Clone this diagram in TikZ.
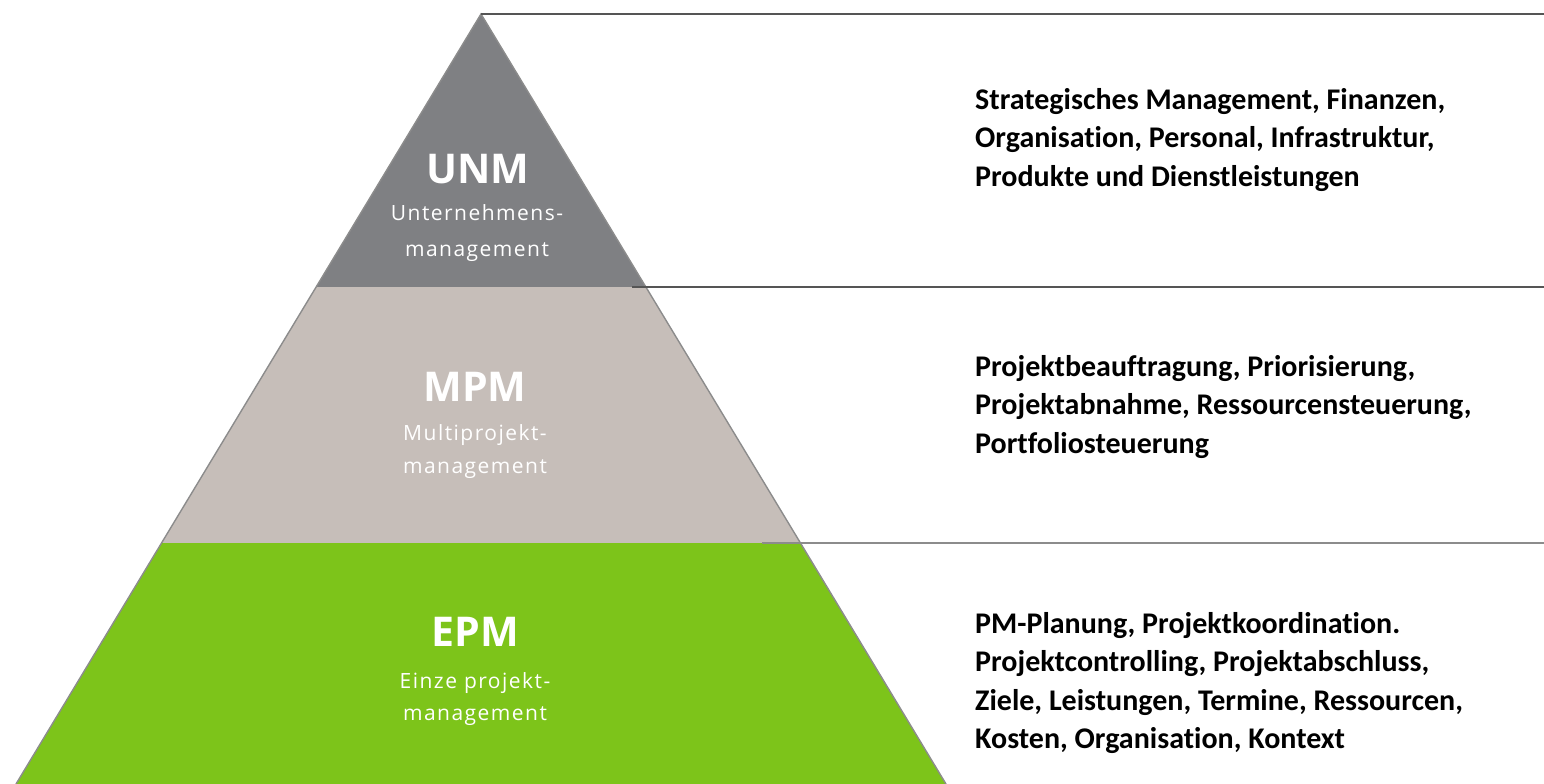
\documentclass[tikz,border=0pt]{standalone}
\usepackage{fontspec}
\setmainfont{Carlito}[RawFeature=-liga]
\newfontfamily\tierfont{Open Sans}
\newfontfamily\tiersubfont{Open Sans}[LetterSpace=7]
\definecolor{tiergray}{HTML}{7F8083}
\definecolor{tierbeige}{HTML}{C6BEB9}
\definecolor{tiergreen}{HTML}{7DC41A}
\definecolor{rulegray}{HTML}{555555}
\definecolor{edgegray}{HTML}{8C8C8C}
\tikzset{
  tieredge/.style={draw=edgegray, line width=1.4pt, line join=miter},
  rule/.style={draw=rulegray, line width=2pt},
  tiertitle/.style={text=white, inner sep=0pt, anchor=base, font=\tierfont\bfseries\fontsize{41}{48}\selectfont},
  tiersub/.style={text=white, inner sep=0pt, anchor=base, font=\tiersubfont\fontsize{21}{32}\selectfont},
  topics/.style={text=black, inner sep=0pt, anchor=north west, align=left, font=\bfseries\fontsize{30}{38.5}\selectfont}
}
\begin{document}
\begin{tikzpicture}[x=1pt,y=-1pt]
\useasboundingbox (0,0) rectangle (1544,784);
% pyramid corners
\coordinate (apex) at (481,14);
\coordinate (l1) at (316.1,287);
\coordinate (r1) at (645.9,287);
\coordinate (l2) at (161.5,543);
\coordinate (r2) at (800.5,543);
\coordinate (l3) at (16,784);
\coordinate (r3) at (946,784);
% tiers
\fill[tiergray] (apex) -- (r1) -- (l1) -- cycle;
\fill[tierbeige] (l1) -- (r1) -- (r2) -- (l2) -- cycle;
\fill[tiergreen] (l2) -- (r2) -- (r3) -- (l3) -- cycle;
\draw[tieredge] (l3) -- (apex) -- (r3);
% separating rules
\coordinate (e0) at (1544,14);
\coordinate (s1) at (632,287);
\coordinate (e1) at (1544,287);
\coordinate (s2) at (762,543);
\coordinate (e2) at (1544,543);
\draw[rule] (apex) -- (e0);
\draw[rule] (s1) -- (e1);
\draw[rule, draw=edgegray] (s2) -- (e2);
% tier labels
\node[tiertitle] (unm) at (478,183) {UNM};
\node[tiersub] (unm1) at (477,220) {Unternehmens-};
\node[tiersub] (unm2) at (477,256) {management};
\node[tiertitle] (mpm) at (475,401) {MPM};
\node[tiersub] (mpm1) at (475,440) {Multiprojekt-};
\node[tiersub] (mpm2) at (475,473) {management};
\node[tiertitle] (epm) at (475,646) {EPM};
\node[tiersub] (epm1) at (475,688) {Einze projekt-};
\node[tiersub] (epm2) at (475,720) {management};
% topics
\node[topics] (t1) at (975,88) {Strategisches Management, Finanzen,\\Organisation, Personal, Infrastruktur,\\Produkte und Dienstleistungen};
\node[topics] (t2) at (975,355) {Projektbeauftragung, Priorisierung,\\Projektabnahme, Ressourcensteuerung,\\Portfoliosteuerung};
\node[topics] (t3) at (975,612) {PM-Planung, Projektkoordination.\\Projektcontrolling, Projektabschluss,\\Ziele, Leistungen, Termine, Ressourcen,\\Kosten, Organisation, Kontext};
\end{tikzpicture}
\end{document}
